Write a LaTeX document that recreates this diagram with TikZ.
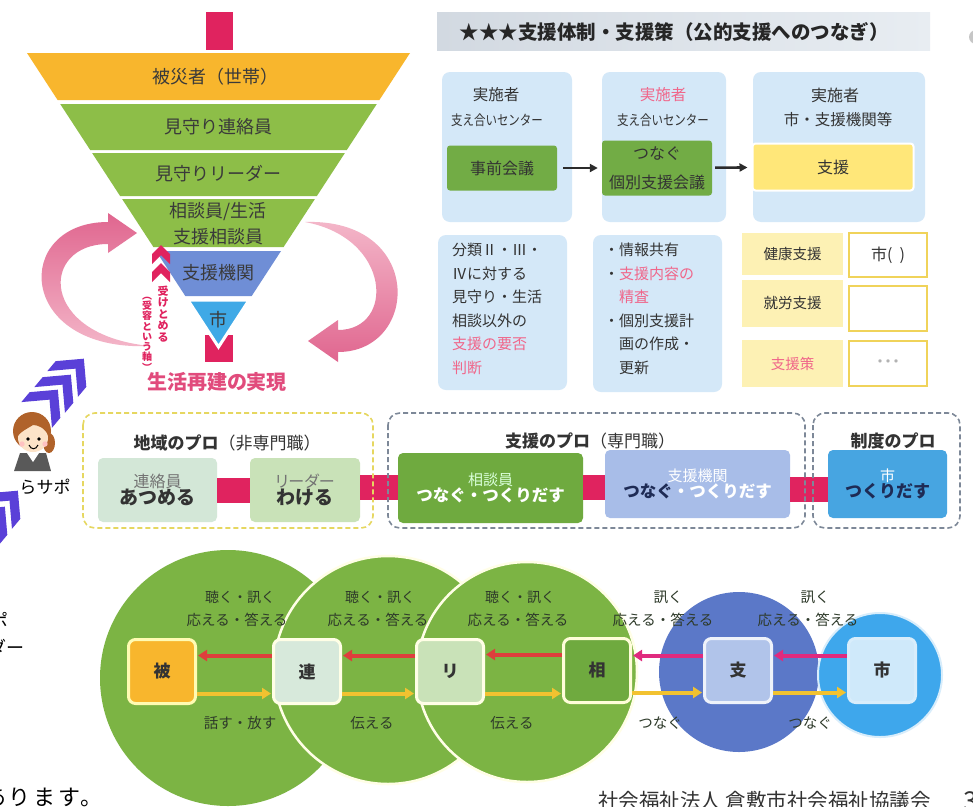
\documentclass[tikz,border=0pt]{standalone}
\usepackage{fontspec}
\usetikzlibrary{arrows.meta,calc}
\setmainfont{Noto Sans CJK JP}
\newfontfamily\jp[RawFeature=+palt]{Noto Sans CJK JP}
\newfontfamily\jpw{Noto Sans CJK JP}
\newfontfamily\jpn[FakeStretch=0.82]{Noto Sans CJK JP}
\newfontfamily\jpls[LetterSpace=12]{Noto Sans CJK JP}
\newcommand\fsz[2]{\fontsize{#1}{#2}\selectfont}
% chevron: position, angle, half width, thickness, colour
\newcommand\chevron[5]{\fill[#5, shift={(#1)}, rotate=#2] (-#3pt,0pt) -- (0pt,#3pt) -- (#3pt,0pt) -- (#3pt,-#4pt) -- (0pt,#3pt-#4pt) -- (-#3pt,-#4pt) -- cycle;}

\definecolor{txt}{HTML}{333333}
\definecolor{funtxt}{HTML}{3A3A3A}
\definecolor{orng}{HTML}{F8B62D}
\definecolor{fgrn}{HTML}{8DBE48}
\definecolor{fblue}{HTML}{6F8ED6}
\definecolor{flblue}{HTML}{3FA9E6}
\definecolor{crim}{HTML}{E0235F}
\definecolor{ribd}{HTML}{E0668F}
\definecolor{ribl}{HTML}{F4B8CA}
\definecolor{rosetxt}{HTML}{E14B7C}
\definecolor{purp}{HTML}{5A40D8}
\definecolor{paleblue}{HTML}{D4E8F8}
\definecolor{boxgreen}{HTML}{72AC45}
\definecolor{boxyellow}{HTML}{FFE779}
\definecolor{paleyel}{HTML}{FDF1B4}
\definecolor{goldline}{HTML}{F0D35A}
\definecolor{pinktxt}{HTML}{F0668A}
\definecolor{hdrL}{HTML}{D2D9E1}
\definecolor{hdrR}{HTML}{E8EDF2}
\definecolor{darkarr}{HTML}{2B2B2B}
\definecolor{mint}{HTML}{D3E7D7}
\definecolor{palegrn}{HTML}{C9E2B8}
\definecolor{midgrn}{HTML}{6FAA3F}
\definecolor{peri}{HTML}{A8BDE8}
\definecolor{skyb}{HTML}{47A5E1}
\definecolor{navy}{HTML}{1E2B55}
\definecolor{dashy}{HTML}{E6D760}
\definecolor{dashg}{HTML}{7D8898}
\definecolor{cgrn}{HTML}{7CB444}
\definecolor{cblue}{HTML}{5B78C8}
\definecolor{csky}{HTML}{3EA7EC}
\definecolor{arrred}{HTML}{DE3E3C}
\definecolor{arrmag}{HTML}{E02A7E}
\definecolor{arryel}{HTML}{F2C230}
\definecolor{ctxt}{HTML}{2E3A2A}
\definecolor{hair}{HTML}{B0622A}
\definecolor{skin}{HTML}{FCE3C8}

\tikzset{
  lbl/.style={inner sep=0pt, text=txt, font=\jpw\fsz{15.5}{18}},
  fun/.style={inner sep=0pt, text=funtxt, font=\jpw\fsz{18}{21}},
  pbox/.style={fill=paleblue, rounded corners=8pt, inner sep=0pt},
  actbox/.style={rounded corners=3pt, inner sep=0pt, text=txt, font=\jpw\fsz{16}{29}, align=center},
  flowarr/.style={line width=2.6pt, draw=darkarr, -{Triangle[length=8pt,width=8pt]}},
  ybox/.style={fill=paleyel, inner sep=0pt, text=txt, font=\jpw\fsz{14.5}{17}},
  wbox/.style={fill=white, draw=goldline, line width=2.4pt, inner sep=0pt, text=txt, font=\jpw\fsz{16}{19}},
  midbox/.style={rounded corners=5pt, inner sep=0pt, align=center},
  link/.style={draw=crim, line width=25pt},
  grp/.style={line width=1.6pt, dash pattern=on 5pt off 3pt, rounded corners=12pt},
  grptitle/.style={inner sep=0pt, text=txt, font=\jpw\fsz{17}{20}},
  sq/.style={rounded corners=7pt, line width=3pt, minimum width=67pt, minimum height=64pt, inner sep=0pt, font=\jpw\bfseries\fsz{17}{20}, text=txt},
  ask/.style={line width=4pt, -{Triangle[length=9pt,width=11pt]}, shorten >=1pt},
  clbl/.style={inner sep=0pt, text=ctxt, font=\jpw\fsz{14.5}{17}}
}

\begin{document}
\begin{tikzpicture}[x=1pt,y=-1pt]
\useasboundingbox (0,0) rectangle (973,806);
\fill[white] (0,0) rectangle (973,806);

% ---------- inverted funnel ----------
\fill[crim] (206,12) rectangle (233,50);
\fill[orng] (27,53) -- (410,53) -- (379.4,100) -- (57.6,100) -- cycle;
\fill[fgrn] (60.2,104) -- (376.8,104) -- (346.8,150) -- (90.2,150) -- cycle;
\fill[fgrn] (92.1,153) -- (344.9,153) -- (316.9,196) -- (120.1,196) -- cycle;
\fill[fgrn] (122.1,199) -- (314.9,199) -- (283.6,247) -- (153.4,247) -- cycle;
\fill[fblue] (156,251) -- (281,251) -- (251.7,296) -- (185.3,296) -- cycle;
\fill[crim] (205,335) rectangle (233,362);
\filldraw[fill=flblue, draw=white, line width=3pt] (187.9,300) -- (249.1,300) -- (218.5,347) -- cycle;

\node[fun] (f1) at (215,77) {被災者（世帯）};
\node[fun] (f2) at (218,127) {見守り連絡員};
\node[fun] (f3) at (218,174) {見守りリーダー};
\node[fun] (f4) at (218,212) {相談員/生活};
\node[fun] (f5) at (218,237) {支援相談員};
\node[fun] (f6) at (218,273) {支援機関};
\node[fun] (f7) at (218,320) {市};

% circulating ribbons
\shade[top color=ribd, bottom color=ribl]
  (150,346) .. controls (15,352) and (12,222) .. (108,222)
  -- (108,213) -- (137,233) -- (108,253) -- (108,244)
  .. controls (40,244) and (38,335) .. (150,346) -- cycle;
\shade[top color=ribl, bottom color=ribd]
  (305,222) .. controls (425,218) and (420,352) .. (338,352)
  -- (338,362) -- (308,341) -- (338,320) -- (338,330)
  .. controls (395,330) and (392,238) .. (305,222) -- cycle;

\node[inner sep=0pt, text=rosetxt, font=\jp\bfseries\fsz{20}{22}] (goal) at (217,382) {生活再建の実現};

% accepting axis
\chevron{161,254}{0}{9}{10}{crim}
\chevron{161,272}{0}{9}{10}{crim}
\node[inner sep=0pt, text=crim, align=center, font=\jp\bfseries\fsz{11}{11.6}] (uk1) at (163,314) {受\\け\\と\\め\\る};
\node[inner sep=0pt, text=crim, align=center, font=\jp\bfseries\fsz{10}{10.3}] (uk2) at (147,334) {︵\\受\\容\\と\\い\\う\\軸\\︶};

% ---------- left margin ----------
\chevron{45,405}{-40}{20}{13}{purp}
\chevron{58,390}{-40}{20}{13}{purp}
\chevron{71,374}{-40}{20}{13}{purp}
\chevron{-21,537}{-40}{20}{13}{purp}
\chevron{-8,522}{-40}{20}{13}{purp}
\chevron{5,506}{-40}{20}{13}{purp}

% supporter figure
\fill[hair] (32,431) circle (19pt);
\fill[hair] (49,443) ellipse (6pt and 10pt);
\fill[gray!70!black] (14,471) -- (20,453) -- (46,453) -- (51,471) -- cycle;
\fill[white] (27,453) -- (33,462) -- (39,453) -- cycle;
\fill[skin] (33,438) ellipse (15pt and 14pt);
\fill[hair] (17,437) .. controls (16,412) and (50,412) .. (49,437)
  .. controls (45,427) and (37,425) .. (33,425) .. controls (27,429) and (21,431) .. cycle;
\fill[black] (28,439) circle (1.8pt);
\fill[black] (39,439) circle (1.8pt);
\fill[pink!80!red!60] (22,444) circle (2.7pt);
\fill[pink!80!red!60] (45,444) circle (2.7pt);
\draw[black, line width=1pt] (29,445) .. controls (31,450) and (36,450) .. (38,445);
\node[inner sep=0pt, text=black, font=\jpw\fsz{17}{20}] (rasapo) at (45,487) {らサポ};
\node[inner sep=0pt, anchor=east, text=black, font=\jpw\fsz{19}{22}] (cut1) at (9,621) {ポ};
\node[inner sep=0pt, anchor=east, text=black, font=\jpw\fsz{18}{21}] (cut2) at (25,647) {ダー};
\node[inner sep=0pt, anchor=west, text=black, font=\jpls\fsz{22}{25}] (cut3) at (-16,797) {あります。};

% ---------- support structure (top right) ----------
\shade[left color=hdrL, right color=hdrR] (437,12) rectangle (930,50);
\node[inner sep=0pt, text=black!85, font=\jpw\bfseries\fsz{19.5}{22}] (hdr) at (674,32) {★★★支援体制・支援策（公的支援へのつなぎ）};
\fill[gray!45] (976,37) circle (7pt);

\node[pbox, minimum width=130pt, minimum height=150pt] (colA) at (507,147) {};
\node[pbox, minimum width=124pt, minimum height=150pt] (colB) at (664,147) {};
\node[pbox, minimum width=172pt, minimum height=150pt] (colC) at (839,147) {};

\node[lbl] (tA1) at (496,95) {実施者};
\node[lbl, font=\jpn\fsz{14}{17}] (tA2) at (497,120) {支え合いセンター};
\node[actbox, fill=boxgreen, minimum width=110pt, minimum height=45pt] (g1) at (502,168) {事前会議};
\node[lbl, text=pinktxt] (tB1) at (663,95) {実施者};
\node[lbl, font=\jpn\fsz{14}{17}] (tB2) at (663,120) {支え合いセンター};
\node[actbox, fill=boxgreen, minimum width=110pt, minimum height=55pt] (g2) at (657,168) {つなぐ\\個別支援会議};
\node[lbl, font=\jpw\fsz{16}{19}] (tC1) at (835,95) {実施者};
\node[lbl, font=\jpw\fsz{15.5}{19}] (tC2) at (838,120) {市・支援機関等};
\node[actbox, fill=boxyellow, draw=white, line width=2pt, minimum width=161pt, minimum height=47pt] (y1) at (833,167) {支援};

\draw[flowarr, shorten <=6pt, shorten >=4pt] (g1) -- (g2);
\draw[flowarr, shorten <=3pt, shorten >=4pt] (g2) -- (y1);

\node[pbox, minimum width=129pt, minimum height=155pt] (colD) at (502.5,312.5) {};
\node[lbl, anchor=north west, align=left, font=\jpw\fsz{15}{23.5}] (tD) at (452,243)
  {分類Ⅱ・Ⅲ・\\Ⅳに対する\\見守り・生活\\相談以外の\\{\color{pinktxt}支援の要否}\\{\color{pinktxt}判断}};
\node[pbox, minimum width=129pt, minimum height=157pt] (colE) at (657.5,313.5) {};
\node[lbl, anchor=north west, align=left, font=\jpw\fsz{15}{23.5}] (tE) at (604,243)
  {・情報共有\\・{\color{pinktxt}支援内容の}\\\phantom{・}{\color{pinktxt}精査}\\・個別支援計\\\phantom{・}画の作成・\\\phantom{・}更新};

\node[ybox, minimum width=101pt, minimum height=42pt] (h1) at (792.5,254) {健康支援};
\node[ybox, minimum width=101pt, minimum height=47pt] (h2) at (792.5,303) {就労支援};
\node[ybox, minimum width=101pt, minimum height=47pt, text=pinktxt] (h3) at (792.5,363.5) {支援策};
\node[wbox, minimum width=78pt, minimum height=44pt] (w1) at (888,255) {市(\ \ )};
\node[wbox, minimum width=78pt, minimum height=45pt] (w2) at (888,308.5) {};
\node[wbox, minimum width=78pt, minimum height=45pt, text=black!30, font=\jp\fsz{16}{19}] (w3) at (888,363.5) {・・・};

% ---------- professionals band ----------
\node[grptitle] (gt1) at (227,443) {\textbf{地域のプロ}（非専門職）};
\node[grptitle] (gt2) at (590,441) {\textbf{支援のプロ}（専門職）};
\node[grptitle] (gt3) at (893,441) {\textbf{制度のプロ}};

\node[midbox, fill=mint, minimum width=119pt, minimum height=64pt] (m1) at (157.5,490)
  {{\color{black!55}\jpw\fsz{16}{21}連絡員}\\{\jpw\bfseries\fsz{19}{23}\color{txt}あつめる}};
\node[midbox, fill=palegrn, minimum width=110pt, minimum height=64pt] (m2) at (305,490)
  {{\color{black!55}\jp\fsz{16}{21}リーダー}\\{\jpw\bfseries\fsz{19}{23}\color{txt}わける}};
\node[midbox, fill=midgrn, minimum width=185pt, minimum height=70pt] (m3) at (490.5,488)
  {{\color{white!85!green}\jpw\fsz{15}{22}相談員}\\{\jpw\bfseries\fsz{16.5}{23}\color{white}つなぐ・つくりだす}};
\node[midbox, fill=peri, minimum width=185pt, minimum height=68pt] (m4) at (697.5,484)
  {{\color{white}\jpw\fsz{15}{22}支援機関}\\{\jpw\bfseries\fsz{16.5}{23}{\color{navy}つなぐ}{\color{white}・つくりだす}}};
\node[midbox, fill=skyb, minimum width=119pt, minimum height=68pt] (m5) at (887.5,484)
  {{\color{white}\jpw\fsz{15}{22}市}\\{\jpw\bfseries\fsz{17}{23}\color{navy}つくりだす}};

\draw[link] (m1.east) -- (m2.west);
\draw[link] ([yshift=3pt]m2.east) -- ([yshift=3pt]m2.east -| m3.west);
\draw[link] ([yshift=1pt]m3.east) -- ([yshift=1pt]m3.east -| m4.west);
\draw[link] ([yshift=-5pt]m4.east) -- ([yshift=-5pt]m4.east -| m5.west);
% dashed outlines lie over the links
\draw[grp, draw=dashy] (83,413) rectangle (373,528);
\draw[grp, draw=dashg] (388,413) rectangle (805,528);
\draw[grp, draw=dashg] (813,413) rectangle (960,528);

% ---------- relay circles ----------
\fill[cgrn] (228,678) circle[radius=128pt];
\filldraw[fill=cgrn, draw=white!90!yellow, line width=2.5pt] (388,670) circle[radius=114pt];
\filldraw[fill=cgrn, draw=white!90!yellow, line width=2.5pt] (527,672) circle[radius=110pt];
\fill[cblue] (739,672) circle[radius=80pt];
\filldraw[fill=csky, draw=white!80!csky, line width=2pt] (880,675) circle[radius=62pt];

\node[sq, fill=orng, draw=yellow!30] (s1) at (162,671.5) {被};
\node[sq, fill=mint!90!white, draw=white!90!yellow] (s2) at (307,671.5) {連};
\node[sq, fill=palegrn, draw=white!90!yellow] (s3) at (450,671.5) {リ};
\node[sq, fill=midgrn, draw=white!85!yellow] (s4) at (597,670.5) {相};
\node[sq, fill=peri!90!white, draw=white!80!peri] (s5) at (738,670.5) {支};
\node[sq, fill=csky!25!white, draw=white!80!csky] (s6) at (882,670.5) {市};

\draw[ask, draw=arrred, fill=arrred] ([yshift=16pt]s2.west) -- ([yshift=16pt]s2.west -| s1.east);
\draw[ask, draw=arrred, fill=arrred] ([yshift=16pt]s3.west) -- ([yshift=16pt]s3.west -| s2.east);
\draw[ask, draw=arrred, fill=arrred] ([yshift=16pt]s4.west) -- ([yshift=16pt]s4.west -| s3.east);
\draw[ask, draw=arrmag, fill=arrmag] ([yshift=15pt]s5.west) -- ([yshift=15pt]s5.west -| s4.east);
\draw[ask, draw=arrmag, fill=arrmag] ([yshift=15pt]s6.west) -- ([yshift=15pt]s6.west -| s5.east);

\draw[ask, draw=arryel, fill=arryel] ([yshift=-22pt]s1.east) -- ([yshift=-22pt]s1.east -| s2.west);
\draw[ask, draw=arryel, fill=arryel] ([yshift=-22pt]s2.east) -- ([yshift=-22pt]s2.east -| s3.west);
\draw[ask, draw=arryel, fill=arryel] ([yshift=-22pt]s3.east) -- ([yshift=-22pt]s3.east -| s4.west);
\draw[ask, draw=arryel, fill=arryel] ([yshift=-22pt]s4.east) -- ([yshift=-22pt]s4.east -| s5.west);
\draw[ask, draw=arryel, fill=arryel] ([yshift=-22pt]s5.east) -- ([yshift=-22pt]s5.east -| s6.west);

\node[clbl, font=\jpw\fsz{14}{17}] (q1a) at (240,597) {聴く・訊く};
\node[clbl] (q1b) at (237,620) {応える・答える};
\node[clbl, font=\jpw\fsz{14}{17}] (q2a) at (380,597) {聴く・訊く};
\node[clbl] (q2b) at (378,620) {応える・答える};
\node[clbl, font=\jpw\fsz{14}{17}] (q3a) at (520,597) {聴く・訊く};
\node[clbl] (q3b) at (518,620) {応える・答える};
\node[clbl] (q4a) at (668,597) {訊く};
\node[clbl] (q4b) at (663,620) {応える・答える};
\node[clbl] (q5a) at (815,597) {訊く};
\node[clbl] (q5b) at (808,620) {応える・答える};

\node[clbl] (r1) at (240,723) {話す・放す};
\node[clbl] (r2) at (372,723) {伝える};
\node[clbl] (r3) at (512,723) {伝える};
\node[clbl] (r4) at (660,723) {つなぐ};
\node[clbl] (r5) at (810,723) {つなぐ};

% ---------- footer ----------
\node[inner sep=0pt, anchor=west, text=black!80, font=\jpw\fsz{20.5}{24}] (foot) at (598,801) {社会福祉法人\ 倉敷市社会福祉協議会};
\node[inner sep=0pt, anchor=west, text=black!80, font=\jpw\fsz{26}{30}] (pg) at (963,801) {3};
\end{tikzpicture}
\end{document}
